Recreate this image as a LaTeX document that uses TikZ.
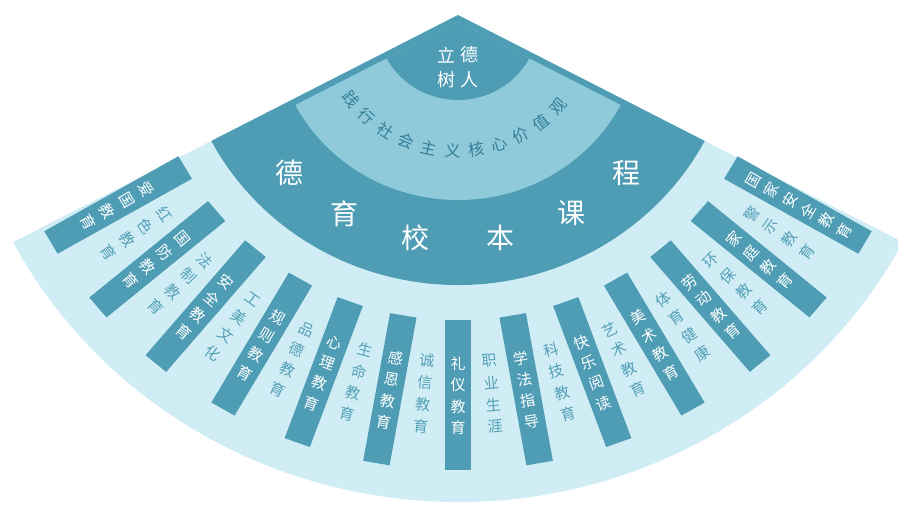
\documentclass[tikz,border=0pt]{standalone}
\usepackage{fontspec}
\setmainfont{Noto Sans CJK SC}
\definecolor{fanlight}{RGB}{208,237,245}
\definecolor{fandark}{RGB}{78,157,181}
\definecolor{fanmid}{RGB}{143,202,219}
\definecolor{labtext}{RGB}{84,160,184}
\definecolor{arctext}{RGB}{52,126,152}
\newcommand\darkstrip[5]{% angle, name, nchars, spacing, chars
  \begin{scope}[rotate=#1]
    \fill[fandark] (305,-13) -- (455,-13) -- (455,13) -- (305,13) -- cycle;
  \end{scope}
  \foreach \ch [count=\i] in {#5} {
    \node[striptext, rotate=#1+90] (#2-\i) at ({#1}:{381+(\i-(#3+1)/2)*#4}) {\ch};
  }
}
\newcommand\lightlabel[5]{% angle, name, nchars, spacing, chars
  \foreach \ch [count=\i] in {#5} {
    \node[labeltext, rotate=#1+90] (#2-\i) at ({#1}:{380+(\i-(#3+1)/2)*#4}) {\ch};
  }
}
\begin{document}
\begin{tikzpicture}[x=1pt,y=1pt,
  striptext/.style={text=white, font=\fontsize{15}{15}\selectfont, inner sep=0pt},
  labeltext/.style={text=labtext, font=\fontsize{15}{15}\selectfont, inner sep=0pt},
  bigtext/.style={text=white, font=\fontsize{28}{28}\selectfont, inner sep=0pt},
  arcchar/.style={text=arctext, font=\fontsize{16}{16}\selectfont, inner sep=0pt},
  capchar/.style={text=white, font=\fontsize{18}{18}\selectfont, inner sep=0pt}]
\useasboundingbox (0,-506) rectangle (898,0);
\begin{scope}[shift={(458,-15)}, xscale=1.033]
  % outer fan
  \fill[fanlight] (0,0) -- (207.8:487) arc[start angle=207.8, end angle=332.2, radius=487] -- cycle;
  % dark band
  \fill[fandark] (0,0) -- (207.8:270) arc[start angle=207.8, end angle=332.2, radius=270] -- cycle;
  % mid band
  \begin{scope}[shift={(0,-7)}]
    \fill[fanmid] (0,0) -- (207.8:178) arc[start angle=207.8, end angle=332.2, radius=178] -- cycle;
    \fill[fandark] (0,0) -- (207.8:78) arc[start angle=207.8, end angle=332.2, radius=78] -- cycle;
    \foreach \ch [count=\i] in {践,行,社,会,主,义,核,心,价,值,观} {
      \pgfmathsetmacro\ang{216.7+10.2*(\i-1)}
      \node[arcchar, rotate=\ang+90] (v-\i) at (\ang:129) {\ch};
    }
  \end{scope}
  % big title
  \node[bigtext] (t1) at (224:227) {德};
  \node[bigtext] (t2) at (241:227) {育};
  \node[bigtext] (t3) at (259.5:227) {校};
  \node[bigtext] (t4) at (280.5:227) {本};
  \node[bigtext] (t5) at (299:227) {课};
  \node[bigtext] (t6) at (316:227) {程};
  % strips and labels
  \darkstrip{210}{d1}{4}{21.5}{爱,国,教,育}
  \lightlabel{215}{l1}{4}{22}{红,色,教,育}
  \darkstrip{220}{d2}{4}{21.5}{国,防,教,育}
  \lightlabel{225}{l2}{4}{22}{法,制,教,育}
  \darkstrip{230}{d3}{4}{21.5}{安,全,教,育}
  \lightlabel{235}{l3}{4}{22}{工,美,文,化}
  \darkstrip{240}{d4}{4}{21.5}{规,则,教,育}
  \lightlabel{245}{l4}{4}{22}{品,德,教,育}
  \darkstrip{250}{d5}{4}{21.5}{心,理,教,育}
  \lightlabel{255}{l5}{4}{22}{生,命,教,育}
  \darkstrip{260}{d6}{4}{21.5}{感,恩,教,育}
  \lightlabel{265}{l6}{4}{22}{诚,信,教,育}
  \darkstrip{270}{d7}{4}{21.5}{礼,仪,教,育}
  \lightlabel{275}{l7}{4}{22}{职,业,生,涯}
  \darkstrip{280}{d8}{4}{21.5}{学,法,指,导}
  \lightlabel{285}{l8}{4}{22}{科,技,教,育}
  \darkstrip{290}{d9}{4}{21.5}{快,乐,阅,读}
  \lightlabel{295}{l9}{4}{22}{艺,术,教,育}
  \darkstrip{300}{d10}{4}{21.5}{美,术,教,育}
  \lightlabel{305}{l10}{4}{22}{体,育,健,康}
  \darkstrip{310}{d11}{4}{21.5}{劳,动,教,育}
  \lightlabel{315}{l11}{4}{22}{环,保,教,育}
  \darkstrip{320}{d12}{4}{21.5}{家,庭,教,育}
  \lightlabel{325}{l12}{4}{22}{警,示,教,育}
  \darkstrip{330}{d13}{6}{20.2}{国,家,安,全,教,育}
\end{scope}
% cap text
\node[capchar] (c1) at (446,-55) {立};
\node[capchar] (c2) at (469,-55) {德};
\node[capchar] (c3) at (446,-80) {树};
\node[capchar] (c4) at (469,-80) {人};
\end{tikzpicture}
\end{document}
